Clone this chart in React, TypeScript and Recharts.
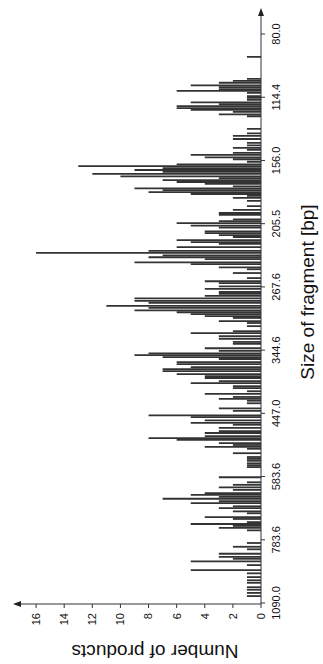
import React from 'react';
import { BarChart, Bar, XAxis, YAxis } from 'recharts';

// fragment size tick labels, large to small (left to right before rotation)
const sizeLabels = ['1090.0', '783.6', '583.6', '447.0', '344.6', '267.6', '205.5', '156.0', '114.4', '80.0'];
const sizeTicks = [0, 1, 2, 3, 4, 5, 6, 7, 8, 9];
const countTicks = [0, 2, 4, 6, 8, 10, 12, 14, 16];

// migration position of each product, in steps between size ticks
const lanePos = [
  0.11, 0.16, 0.21, 0.25, 0.32, 0.36, 0.41, 0.47, 0.52, 0.6, 0.66, 0.7, 0.73, 0.78, 0.85, 0.89, 0.95,
  1.15, 1.19, 1.22, 1.25, 1.28, 1.33, 1.36, 1.42, 1.45, 1.5, 1.53, 1.58, 1.61, 1.65, 1.68, 1.71, 1.74, 1.79, 1.83, 1.87, 1.91, 1.99,
  2.15, 2.18, 2.21, 2.25, 2.28, 2.31, 2.37, 2.44, 2.47, 2.5, 2.53, 2.58, 2.61, 2.64, 2.69, 2.72, 2.77, 2.82, 2.85, 2.89, 2.94, 2.97,
  3.04, 3.08, 3.16, 3.2, 3.23, 3.26, 3.31, 3.35, 3.4, 3.43, 3.48, 3.51, 3.56, 3.59, 3.62, 3.67, 3.7, 3.73, 3.78, 3.81, 3.86, 3.89, 3.92, 3.95, 3.99,
  4.03, 4.1, 4.13, 4.18, 4.22, 4.27, 4.3, 4.38, 4.43, 4.46, 4.51, 4.54, 4.57, 4.6, 4.63, 4.67, 4.7, 4.75, 4.78, 4.82, 4.86, 4.89, 4.92, 4.97,
  5.01, 5.06, 5.09, 5.14, 5.22, 5.28, 5.31, 5.36, 5.39, 5.44, 5.47, 5.5, 5.54, 5.57, 5.63, 5.68, 5.71, 5.74, 5.79, 5.82, 5.85, 5.88, 5.94, 5.97,
  6.01, 6.04, 6.07, 6.14, 6.17, 6.22, 6.28, 6.36, 6.41, 6.44, 6.47, 6.5, 6.53, 6.56, 6.59, 6.63, 6.66, 6.69, 6.72, 6.75, 6.79, 6.82, 6.85, 6.88, 6.91, 6.94, 6.98,
  7.02, 7.05, 7.09, 7.12, 7.17, 7.2, 7.24, 7.28, 7.34, 7.39, 7.43, 7.5, 7.7, 7.73, 7.77, 7.8, 7.83, 7.86, 7.89, 7.92, 7.96, 7.99,
  8.02, 8.07, 8.1, 8.13, 8.16, 8.19, 8.23, 8.26, 8.29, 8.64,
];

const productCounts = [
  1, 1, 1, 1, 1, 1, 1, 1, 5, 1, 5, 2, 3, 3, 1, 2, 1,
  1, 3, 2, 5, 1, 2, 4, 1, 2, 3, 2, 5, 3, 7, 3, 5, 4, 2, 3, 2, 1, 3,
  1, 1, 1, 1, 1, 1, 2, 1, 4, 2, 3, 6, 8, 4, 4, 3, 3, 2, 5, 4, 5, 8,
  2, 3, 1, 1, 3, 2, 4, 1, 2, 2, 5, 3, 4, 4, 6, 7, 7, 5, 6, 6, 3, 7, 9, 8, 3,
  4, 2, 2, 3, 3, 5, 2, 1, 1, 3, 2, 4, 5, 6, 9, 8, 11, 8, 9, 9, 4, 3, 3, 4,
  3, 3, 4, 1, 2, 1, 3, 5, 9, 4, 8, 7, 16, 8, 6, 3, 5, 6, 2, 3, 4, 4, 3, 5,
  6, 3, 2, 3, 3, 2, 1, 1, 2, 1, 5, 8, 7, 9, 2, 4, 6, 7, 3, 10, 12, 7, 9, 7, 13, 6, 1,
  2, 4, 5, 2, 1, 2, 1, 1, 2, 2, 1, 1, 1, 3, 2, 5, 6, 6, 3, 5, 1, 1,
  1, 1, 6, 3, 3, 5, 3, 2, 1, 1,
];

const data = lanePos.map((pos, i) => ({ pos, count: productCounts[i] }));

const font = '"Liberation Sans", Arial, sans-serif';
const ink = '#111';

const SizeTitle = (props: any) => {
  const vb = props.viewBox;
  return (
    <text
      x={vb.x + vb.width / 2 + 15}
      y={vb.y + 46}
      textAnchor='middle'
      dominantBaseline='central'
      fontFamily={font}
      fontSize={19}
      fill={ink}
    >
      Size of fragment [bp]
    </text>
  );
};

const CountTitle = (props: any) => {
  const vb = props.viewBox;
  const x = vb.x + 13;
  const y = vb.y + vb.height / 2 + 17;
  return (
    <text
      x={x}
      y={y}
      transform={`rotate(-90, ${x}, ${y})`}
      textAnchor='middle'
      dominantBaseline='central'
      fontFamily={font}
      fontSize={19}
      fill={ink}
    >
      Number of products
    </text>
  );
};

const App = () => {
  return (
    <div
      style={{
        position: 'fixed',
        left: 0,
        top: 0,
        width: 323,
        height: 664,
        overflow: 'hidden',
        background: '#fff',
      }}
    >
      {/* the figure is printed turned a quarter turn counter-clockwise */}
      <div
        style={{
          position: 'absolute',
          left: 0,
          top: 0,
          width: 664,
          height: 323,
          transformOrigin: '0 0',
          transform: 'translate(0px, 664px) rotate(-90deg)',
        }}
      >
        <BarChart
          width={664}
          height={323}
          data={data}
          margin={{ top: 15, right: 10, bottom: 22, left: 0 }}
        >
          <defs>
            <marker
              id='axisArrow'
              viewBox='0 0 8 6'
              refX={6}
              refY={3}
              markerWidth={8}
              markerHeight={6}
              markerUnits='userSpaceOnUse'
              orient='auto-start-reverse'
            >
              <path d='M0,0 L8,3 L0,6 z' fill='#222' />
            </marker>
          </defs>
          <XAxis
            dataKey='pos'
            type='number'
            domain={[-0.016, 9.38]}
            ticks={sizeTicks}
            interval={0}
            allowDataOverflow
            tickFormatter={(v: number) => sizeLabels[v]}
            height={40}
            tickSize={4}
            tickMargin={7}
            stroke='#333'
            axisLine={{ stroke: '#333', markerEnd: 'url(#axisArrow)' }}
            tick={{ fontFamily: font, fontSize: 11, fill: ink }}
            label={SizeTitle}
          />
          <YAxis
            type='number'
            domain={[0, 17.5]}
            ticks={countTicks}
            interval={0}
            width={60}
            tickSize={4}
            tickMargin={5}
            stroke='#333'
            axisLine={{ stroke: '#333', markerStart: 'url(#axisArrow)' }}
            tick={{ fontFamily: font, fontSize: 11, fill: ink }}
            label={CountTitle}
          />
          <Bar dataKey='count' fill='#333' barSize={1.8} isAnimationActive={false} />
        </BarChart>
      </div>
    </div>
  );
};

export default App;
